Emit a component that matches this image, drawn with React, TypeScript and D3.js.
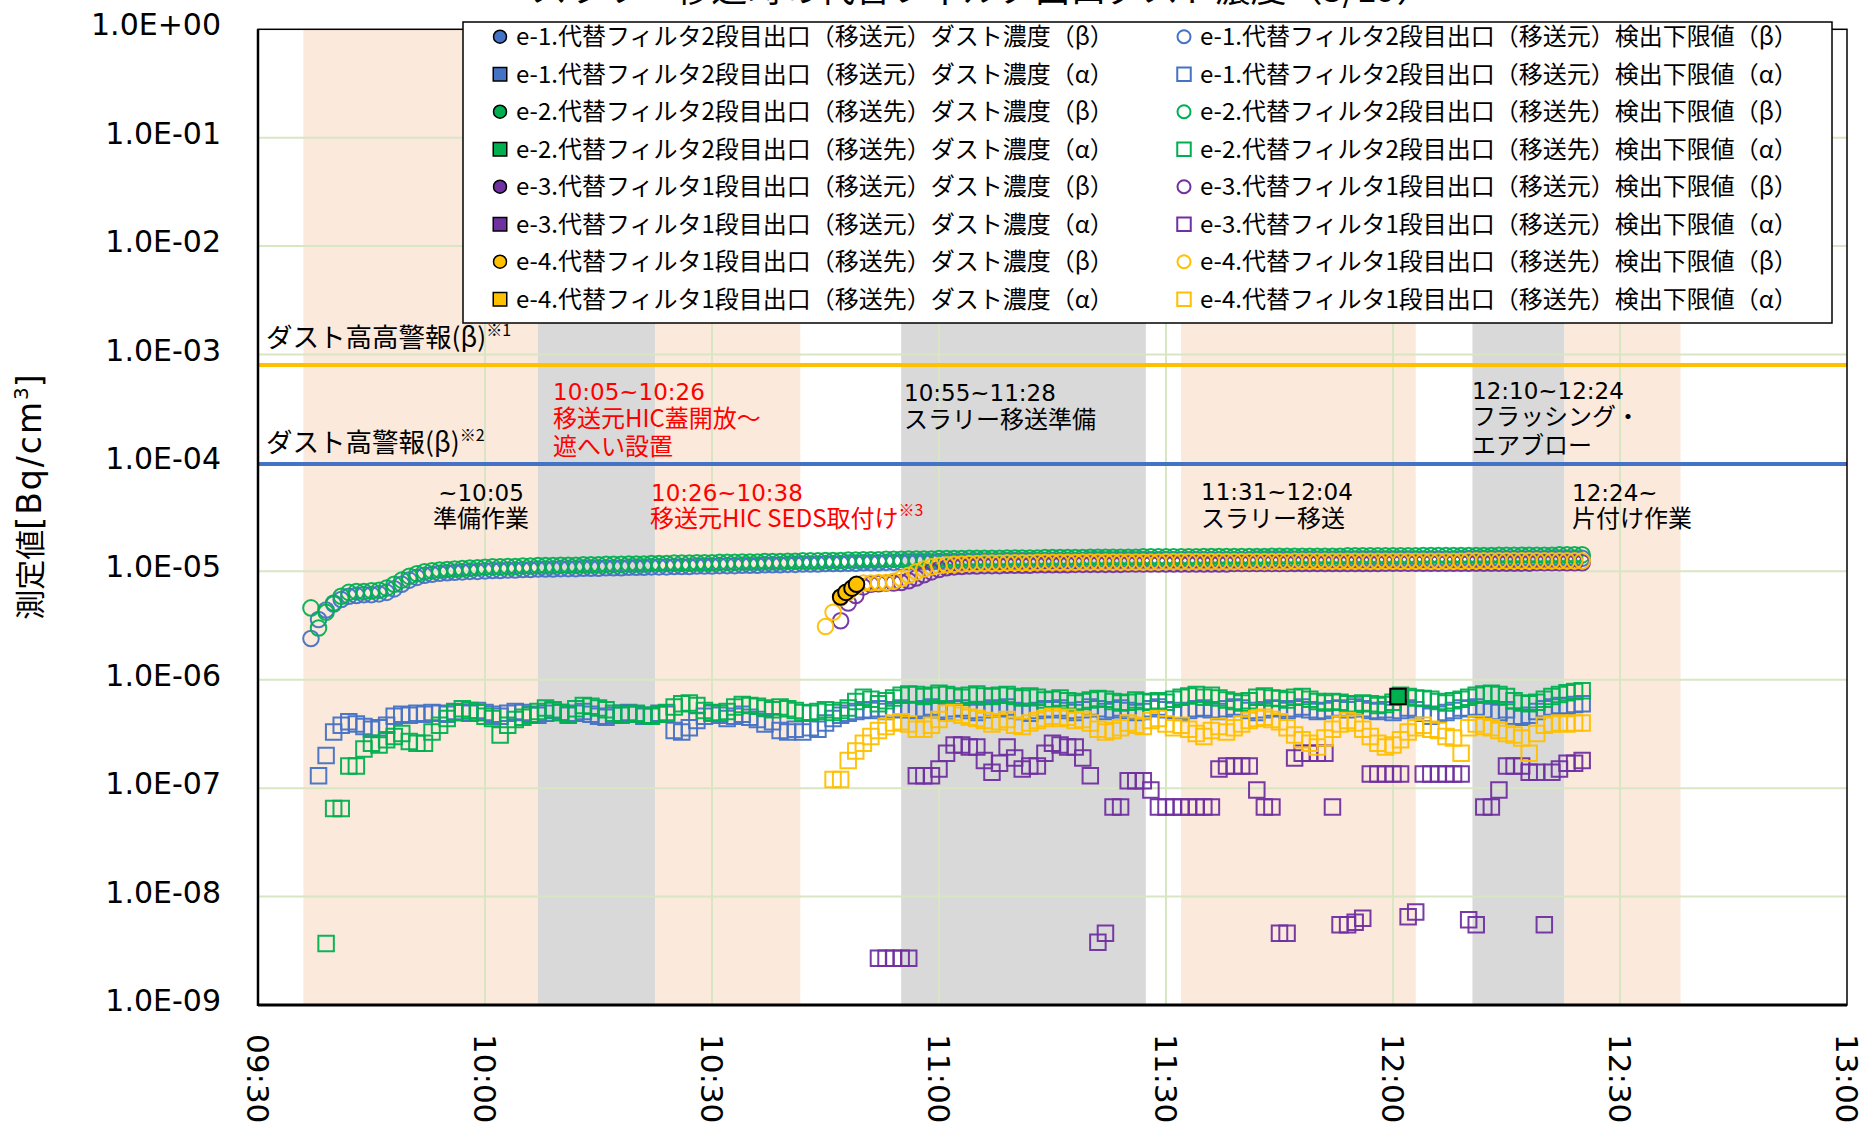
import React from "react";
import * as d3 from "d3";

// ---- data (times are HH:MM, 1-min samples) ----
const xTickLabels = ["09:30", "10:00", "10:30", "11:00", "11:30", "12:00", "12:30", "13:00"];
const yTickValues = [1e0, 1e-1, 1e-2, 1e-3, 1e-4, 1e-5, 1e-6, 1e-7, 1e-8, 1e-9];
const yTickLabels = ["1.0E+00", "1.0E-01", "1.0E-02", "1.0E-03", "1.0E-04", "1.0E-05", "1.0E-06", "1.0E-07", "1.0E-08", "1.0E-09"];

// work-step shading
const bandStarts = ["09:36", "10:07", "10:22:30", "10:55", "11:32", "12:10:30", "12:22:40"];
const bandEnds = ["10:07", "10:22:30", "10:41:40", "11:27:20", "12:03", "12:22:40", "12:38"];
const bandKinds = ["work", "grey", "work", "grey", "work", "grey", "work"];

// alarm levels [Bq/cm3]
const alarmHighHigh = 8.0e-4;
const alarmHigh = 9.8e-5;

// β detection limits [x1E-6]
const e1BetaLldStart = "09:37";
const e1BetaLld = [
  2.4, 3.6, 4.4, 5.0, 5.5, 5.9, 6.0, 6.1, 6.1, 6.2,
  6.4, 6.9, 7.6, 8.3, 8.8, 9.2, 9.4, 9.6, 9.7, 9.8,
  9.9, 10.0, 10.0, 10.1, 10.2, 10.2, 10.3, 10.3, 10.4, 10.4,
  10.5, 10.5, 10.5, 10.6, 10.6, 10.6, 10.7, 10.7, 10.7, 10.8,
  10.8, 10.8, 10.9, 10.9, 10.9, 11.0, 11.0, 11.0, 11.1, 11.1,
  11.1, 11.2, 11.2, 11.2, 11.3, 11.3, 11.3, 11.4, 11.4, 11.4,
  11.5, 11.5, 11.5, 11.6, 11.6, 11.7, 11.7, 11.7, 11.8, 11.8,
  11.8, 11.9, 11.9, 12.0, 12.0, 12.0, 12.1, 12.1, 12.1, 12.2,
  12.2, 12.2, 12.2, 12.3, 12.3, 12.3, 12.3, 12.4, 12.4, 12.4,
  12.4, 12.4, 12.5, 12.5, 12.5, 12.5, 12.5, 12.6, 12.6, 12.6,
  12.6, 12.6, 12.6, 12.7, 12.7, 12.7, 12.7, 12.7, 12.7, 12.7,
  12.8, 12.8, 12.8, 12.8, 12.8, 12.8, 12.8, 12.8, 12.8, 12.8,
  12.8, 12.8, 12.8, 12.8, 12.8, 12.9, 12.9, 12.9, 12.9, 12.9,
  12.9, 12.9, 12.9, 12.9, 12.9, 12.9, 12.9, 13.0, 13.0, 13.0,
  13.0, 13.0, 13.0, 13.0, 13.0, 13.0, 13.0, 13.0, 13.0, 13.0,
  13.0, 13.0, 13.1, 13.1, 13.1, 13.1, 13.1, 13.1, 13.1, 13.1,
  13.1, 13.1, 13.1, 13.1, 13.2, 13.2, 13.2, 13.2, 13.2,
];
const e2BetaLldStart = "09:37";
const e2BetaLld = [
  4.6, 3.0, 4.2, 5.1, 5.9, 6.4, 6.5, 6.5, 6.6, 6.7,
  7.0, 7.6, 8.3, 9.0, 9.5, 9.9, 10.1, 10.3, 10.4, 10.5,
  10.6, 10.7, 10.8, 10.9, 11.0, 11.0, 11.1, 11.1, 11.2, 11.2,
  11.3, 11.3, 11.3, 11.4, 11.4, 11.4, 11.5, 11.5, 11.5, 11.6,
  11.6, 11.6, 11.7, 11.7, 11.7, 11.8, 11.8, 11.8, 11.9, 11.9,
  11.9, 12.0, 12.0, 12.0, 12.1, 12.1, 12.1, 12.2, 12.2, 12.2,
  12.3, 12.3, 12.3, 12.4, 12.4, 12.5, 12.5, 12.5, 12.6, 12.6,
  12.6, 12.7, 12.7, 12.8, 12.8, 12.8, 12.9, 12.9, 12.9, 13.0,
  13.0, 13.0, 13.0, 13.1, 13.1, 13.1, 13.1, 13.2, 13.2, 13.2,
  13.2, 13.2, 13.3, 13.3, 13.3, 13.3, 13.3, 13.4, 13.4, 13.4,
  13.4, 13.4, 13.4, 13.5, 13.5, 13.5, 13.5, 13.5, 13.5, 13.5,
  13.6, 13.6, 13.6, 13.6, 13.6, 13.6, 13.6, 13.6, 13.7, 13.7,
  13.7, 13.7, 13.7, 13.7, 13.7, 13.7, 13.7, 13.8, 13.8, 13.8,
  13.8, 13.8, 13.8, 13.8, 13.8, 13.8, 13.8, 13.9, 13.9, 13.9,
  13.9, 13.9, 13.9, 13.9, 13.9, 13.9, 13.9, 14.0, 14.0, 14.0,
  14.0, 14.0, 14.0, 14.0, 14.0, 14.0, 14.0, 14.1, 14.1, 14.1,
  14.1, 14.1, 14.1, 14.1, 14.1, 14.2, 14.2, 14.2, 14.2,
];
const e3BetaLldStart = "10:47";
const e3BetaLld = [
  3.5, 5.1, 6.0, 7.2, 7.6, 7.7, 7.8, 7.8, 7.9, 8.2,
  8.7, 9.3, 9.9, 10.4, 10.8, 11.0, 11.1, 11.2, 11.2, 11.3,
  11.3, 11.3, 11.4, 11.4, 11.4, 11.4, 11.5, 11.5, 11.5, 11.5,
  11.5, 11.6, 11.6, 11.6, 11.6, 11.6, 11.6, 11.6, 11.7, 11.7,
  11.7, 11.7, 11.7, 11.7, 11.7, 11.7, 11.7, 11.7, 11.7, 11.7,
  11.7, 11.7, 11.8, 11.8, 11.8, 11.8, 11.8, 11.8, 11.8, 11.8,
  11.8, 11.8, 11.8, 11.8, 11.8, 11.8, 11.8, 11.8, 11.8, 11.8,
  11.8, 11.8, 11.9, 11.9, 11.9, 11.9, 11.9, 11.9, 11.9, 11.9,
  11.9, 11.9, 11.9, 11.9, 11.9, 11.9, 11.9, 11.9, 11.9, 11.9,
  11.9, 11.9, 12.0, 12.0, 12.0, 12.0, 12.0, 12.0, 12.0,
];
const e4BetaLldStart = "10:45";
const e4BetaLld = [
  3.1, 4.2, 5.7, 6.4, 7.3, 7.8, 7.8, 7.9, 7.9, 8.1,
  8.6, 9.2, 9.9, 10.5, 11.0, 11.3, 11.5, 11.6, 11.7, 11.8,
  11.8, 11.9, 11.9, 11.9, 12.0, 12.0, 12.0, 12.0, 12.1, 12.1,
  12.1, 12.1, 12.1, 12.1, 12.2, 12.2, 12.2, 12.2, 12.2, 12.2,
  12.2, 12.2, 12.2, 12.2, 12.2, 12.3, 12.3, 12.3, 12.3, 12.3,
  12.3, 12.3, 12.3, 12.3, 12.3, 12.3, 12.3, 12.3, 12.3, 12.3,
  12.3, 12.3, 12.4, 12.4, 12.4, 12.4, 12.4, 12.4, 12.4, 12.4,
  12.4, 12.4, 12.4, 12.4, 12.4, 12.4, 12.4, 12.4, 12.4, 12.4,
  12.4, 12.4, 12.4, 12.4, 12.4, 12.5, 12.5, 12.5, 12.5, 12.5,
  12.5, 12.5, 12.5, 12.5, 12.5, 12.5, 12.5, 12.5, 12.5, 12.5,
  12.5,
];

// α detection limits [x1E-7]
const e1AlphaLldStart = "09:38";
const e1AlphaLld = [
  1.3, 2.0, 3.3, 3.8, 4.1, 3.9, 3.7, 3.5, 3.6, 3.8,
  4.6, 4.8, 4.7, 4.9, 4.8, 5.0, 4.9, 4.8, 5.1, 5.0,
  4.9, 5.2, 5.0, 4.8, 4.6, 4.9, 5.1, 5.0, 4.8, 4.7,
  4.9, 5.2, 5.0, 4.7, 4.9, 5.1, 4.8, 4.6, 4.5, 4.7,
  4.9, 5.0, 4.8, 4.6, 4.7, 4.9, 4.8, 3.4, 3.3, 3.6,
  4.2, 4.6, 4.9, 4.7, 4.4, 4.6, 4.8, 4.5, 4.3, 3.9,
  4.1, 3.4, 3.3, 3.5, 3.3, 3.6, 3.5, 4.0, 4.4, 4.7,
  4.9, 5.1, 5.3, 5.2, 5.4, 5.1, 5.3, 5.5, 5.3, 5.2,
  5.4, 5.6, 5.3, 5.1, 5.4, 5.5, 5.2, 5.0, 5.3, 5.5,
  5.4, 5.6, 5.2, 5.1, 4.9, 5.2, 5.4, 5.3, 5.5, 5.2,
  5.0, 5.3, 5.6, 5.4, 5.1, 5.3, 5.5, 5.2, 5.0, 5.1,
  5.4, 5.6, 5.3, 5.2, 5.0, 5.2, 5.4, 5.5, 5.3, 5.1,
  5.4, 5.6, 5.5, 5.2, 5.0, 5.3, 5.5, 5.4, 5.2, 5.4,
  5.6, 5.3, 5.1, 5.2, 5.4, 5.5, 5.3, 5.6, 5.4, 5.2,
  5.1, 5.3, 5.0, 5.2, 5.5, 5.3, 4.9, 4.6, 4.8, 5.0,
  5.2, 5.5, 5.4, 5.6, 5.3, 5.1, 5.0, 5.3, 4.6, 4.5,
  4.7, 5.1, 5.4, 5.6, 5.8, 5.7, 5.9, 6.0,
];
const e2AlphaLldStart = "09:39";
const e2AlphaLld = [
  0.037, 0.65, 0.65, 1.6, 1.6, 2.3, 2.6, 2.5, 2.8, 3.0,
  3.2, 2.7, 2.6, 2.6, 3.3, 3.8, 4.4, 5.0, 5.4, 5.2,
  5.0, 4.6, 4.4, 3.1, 3.8, 4.3, 4.5, 4.7, 5.1, 5.5,
  5.3, 5.0, 4.8, 5.4, 5.8, 5.7, 5.5, 5.3, 4.9, 4.7,
  4.8, 4.9, 4.7, 4.6, 4.8, 5.0, 5.6, 6.0, 6.1, 5.8,
  5.2, 5.0, 4.9, 5.1, 5.6, 5.9, 5.8, 5.7, 5.5, 5.3,
  5.6, 5.4, 5.2, 5.0, 4.9, 5.1, 5.3, 5.0, 5.2, 5.5,
  6.3, 6.9, 6.6, 6.0, 6.4, 6.8, 7.2, 7.4, 7.3, 7.0,
  7.2, 7.5, 7.3, 7.1, 6.9, 7.2, 7.4, 7.1, 7.0, 7.2,
  7.3, 7.0, 6.8, 7.1, 6.9, 6.5, 6.6, 6.8, 6.4, 6.1,
  6.3, 6.5, 6.7, 6.6, 6.3, 6.1, 6.2, 6.5, 6.3, 6.2,
  6.4, 6.2, 6.6, 6.9, 7.1, 7.3, 6.9, 7.2, 6.8, 6.5,
  6.3, 6.1, 6.4, 6.9, 7.1, 6.8, 6.7, 6.5, 6.9, 7.0,
  6.6, 6.3, 6.1, 6.3, 6.2, 6.0, 5.9, 6.1, 6.0, 5.8,
  5.9, 6.2, 7.2, 7.0, 6.8, 6.7, 6.6, 6.3, 6.1, 6.4,
  6.6, 6.9, 7.2, 7.4, 7.5, 7.3, 7.0, 6.4, 6.1, 6.0,
  6.2, 6.6, 7.0, 7.3, 7.6, 7.8, 7.9,
];
// e-3 α [x1E-9]
const e3AlphaLldStart = "10:52";
const e3AlphaLld = [
  2.7, 2.7, 2.7, 2.7, 2.7, 130, 130, 130, 150, 210,
  250, 250, 240, 240, 180, 140, 170, 240, 190, 150,
  160, 160, 210, 260, 250, 240, 240, 190, 130, 3.8,
  4.6, 67, 67, 117, 117, 117, 96, 67, 67, 67,
  67, 67, 67, 67, 67, 150, 160, 160, 160, 160,
  96, 67, 67, 4.6, 4.6, 190, 210, 210, 210, 210,
  67, 5.5, 5.5, 5.8, 6.3, 135, 135, 135, 135, 135,
  6.5, 7.2, 135, 135, 135, 135, 135, 135, 6.1, 5.5,
  67, 67, 96, 160, 160, 160, 140, 140, 5.5, 140,
  150, 170, 170, 180,
];
const e4AlphaLldStart = "10:46";
const e4AlphaLld = [
  1.2, 1.2, 1.8, 2.2, 2.6, 3.0, 3.4, 3.7, 4.0, 4.1,
  3.9, 3.5, 3.5, 3.8, 4.3, 4.9, 5.0, 4.7, 4.5, 4.4,
  4.2, 3.9, 4.1, 4.3, 3.8, 3.7, 4.0, 4.2, 4.4, 4.6,
  4.4, 4.5, 4.2, 4.3, 4.0, 3.5, 3.3, 3.4, 3.6, 4.0,
  3.8, 3.7, 4.2, 4.4, 3.9, 3.6, 3.8, 3.5, 3.2, 3.0,
  3.4, 3.7, 3.3, 3.6, 3.9, 4.2, 4.4, 4.5, 4.3, 4.1,
  3.6, 3.1, 2.8, 2.6, 2.4, 2.9, 3.5, 3.9, 4.2, 4.0,
  3.5, 3.0, 2.6, 2.4, 2.5, 2.8, 3.3, 3.6, 3.8, 3.5,
  3.4, 3.0, 2.9, 2.1, 3.6, 3.9, 3.7, 3.6, 3.4, 3.2,
  3.1, 2.9, 2.1, 3.2, 3.8, 3.9, 4.0, 3.9, 4.0, 4.0,
];

// measured concentrations (only a few points above detection)
const e4BetaConcTimes = ["10:47:00", "10:47:42", "10:48:30", "10:49:06"];
const e4BetaConc = [5.8e-6, 6.4e-6, 7.0e-6, 7.6e-6];
const e2AlphaConcTimes = ["12:00:40"];
const e2AlphaConc = [7.0e-7];

// ---- look ----
const W = 1864;
const H = 1124;
const PL = 258, PR = 1847, PT = 29.3, PB = 1005;
const JP = '"Noto Sans CJK JP", "Noto Sans", sans-serif';
const NUM = '"DejaVu Sans", "Noto Sans", sans-serif';
const BLUE = "#4472C4";
const GREEN = "#00B050";
const PURPLE = "#7030A0";
const YELLOW = "#FFC000";
const BAND_FILL: Record<string, string> = { work: "#FBE9DB", grey: "#D9D9D9" };
const GRID = "#D9E6C4";

const toMin = (s: string) => {
  const [h, m, sec] = s.split(":").map(Number);
  return h * 60 + m + (sec || 0) / 60 - (9 * 60 + 30);
};

const minuteSeries = (start: string, vals: number[], unit: number) =>
  vals.map((v, i) => ({ t: toMin(start) + i, v: v * unit }));

const pointSeries = (times: string[], vals: number[]) =>
  vals.map((v, i) => ({ t: toMin(times[i]), v }));

type Pt = { t: number; v: number };
type Series = { pts: Pt[]; color: string; shape: "circle" | "square"; filled: boolean };

// Excel series order: drawn bottom to top
const plotted: Series[] = [
  { pts: minuteSeries(e1BetaLldStart, e1BetaLld, 1e-6), color: BLUE, shape: "circle", filled: false },
  { pts: minuteSeries(e1AlphaLldStart, e1AlphaLld, 1e-7), color: BLUE, shape: "square", filled: false },
  { pts: minuteSeries(e2BetaLldStart, e2BetaLld, 1e-6), color: GREEN, shape: "circle", filled: false },
  { pts: minuteSeries(e2AlphaLldStart, e2AlphaLld, 1e-7), color: GREEN, shape: "square", filled: false },
  { pts: minuteSeries(e3BetaLldStart, e3BetaLld, 1e-6), color: PURPLE, shape: "circle", filled: false },
  { pts: minuteSeries(e3AlphaLldStart, e3AlphaLld, 1e-9), color: PURPLE, shape: "square", filled: false },
  { pts: minuteSeries(e4BetaLldStart, e4BetaLld, 1e-6), color: YELLOW, shape: "circle", filled: false },
  { pts: minuteSeries(e4AlphaLldStart, e4AlphaLld, 1e-7), color: YELLOW, shape: "square", filled: false },
  { pts: pointSeries(e4BetaConcTimes, e4BetaConc), color: YELLOW, shape: "circle", filled: true },
  { pts: pointSeries(e2AlphaConcTimes, e2AlphaConc), color: GREEN, shape: "square", filled: true },
];

const legendLeft = [
  { label: "e-1.代替フィルタ2段目出口（移送元）ダスト濃度（β）", color: BLUE, shape: "circle" },
  { label: "e-1.代替フィルタ2段目出口（移送元）ダスト濃度（α）", color: BLUE, shape: "square" },
  { label: "e-2.代替フィルタ2段目出口（移送先）ダスト濃度（β）", color: GREEN, shape: "circle" },
  { label: "e-2.代替フィルタ2段目出口（移送先）ダスト濃度（α）", color: GREEN, shape: "square" },
  { label: "e-3.代替フィルタ1段目出口（移送元）ダスト濃度（β）", color: PURPLE, shape: "circle" },
  { label: "e-3.代替フィルタ1段目出口（移送元）ダスト濃度（α）", color: PURPLE, shape: "square" },
  { label: "e-4.代替フィルタ1段目出口（移送先）ダスト濃度（β）", color: YELLOW, shape: "circle" },
  { label: "e-4.代替フィルタ1段目出口（移送先）ダスト濃度（α）", color: YELLOW, shape: "square" },
];
const legendRight = legendLeft.map((d) => ({ ...d, label: d.label.replace("ダスト濃度", "検出下限値") }));

const symbolPath = (shape: string, size: number) =>
  d3.symbol(shape === "circle" ? d3.symbolCircle : d3.symbolSquare, size)()!;

export default function App() {
  const x = d3.scaleLinear().domain([0, 210]).range([PL, PR]);
  const y = d3.scaleLog().domain([1, 1e-9]).range([PT, PB]);

  const circlePath = symbolPath("circle", Math.PI * 7.8 * 7.8);
  const squarePath = symbolPath("square", 15.5 * 15.5);
  const legCircle = symbolPath("circle", Math.PI * 6.5 * 6.5);
  const legSquare = symbolPath("square", 13.5 * 13.5);

  const legRowY = (i: number) => 36.7 + i * 37.5;

  return (
    <svg width={W} height={H} style={{ position: "absolute", left: 0, top: 0, background: "#fff" }}>
      <rect width={W} height={H} fill="#fff" />

      {/* title, mostly above the frame */}
      <text x={982} y={2} fontFamily={JP} fontSize={36} textAnchor="middle">
        スラリー移送時の代替フィルタ出口ダスト濃度（3/19）
      </text>

      {/* work bands */}
      {bandStarts.map((s, i) => (
        <rect key={"b" + i} x={x(toMin(s))} y={PT} width={x(toMin(bandEnds[i])) - x(toMin(s))}
          height={PB - PT} fill={BAND_FILL[bandKinds[i]]} />
      ))}

      {/* grid */}
      {yTickValues.slice(1, -1).map((v) => (
        <line key={"gy" + v} x1={PL} x2={PR} y1={y(v)} y2={y(v)} stroke={GRID} strokeWidth={2} />
      ))}
      {xTickLabels.slice(1, -1).map((s) => (
        <line key={"gx" + s} x1={x(toMin(s))} x2={x(toMin(s))} y1={PT} y2={PB} stroke={GRID} strokeWidth={2} />
      ))}

      {/* alarm levels */}
      <line x1={PL} x2={PR} y1={y(alarmHighHigh)} y2={y(alarmHighHigh)} stroke={YELLOW} strokeWidth={4} />
      <line x1={PL} x2={PR} y1={y(alarmHigh)} y2={y(alarmHigh)} stroke={BLUE} strokeWidth={4} />

      {/* frame */}
      <rect x={PL} y={PT} width={PR - PL} height={PB - PT} fill="none" stroke="#000" strokeWidth={1.5} />
      <line x1={PL} x2={PL} y1={PT} y2={PB + 1} stroke="#000" strokeWidth={2.5} />
      <line x1={PL} x2={PR} y1={PB} y2={PB} stroke="#000" strokeWidth={3} />

      {/* y ticks */}
      {yTickValues.map((v, i) => (
        <text key={"yl" + i} x={221} y={y(v) + 6} fontFamily={NUM} fontSize={30} textAnchor="end">
          {yTickLabels[i]}
        </text>
      ))}
      {/* x ticks, rotated */}
      {xTickLabels.map((s) => (
        <text key={"xl" + s} transform={`translate(${x(toMin(s))},${PB + 29}) rotate(90)`}
          dy="0.36em" fontFamily={NUM} fontSize={31} textAnchor="start">
          {s}
        </text>
      ))}
      <text transform="translate(41,497) rotate(-90)" fontFamily={JP} fontSize={30} textAnchor="middle">
        測定値<tspan fontFamily={NUM} fontSize={33} letterSpacing={2}>[Bq/cm</tspan>
        <tspan fontFamily={NUM} fontSize={20} dy={-13}>3</tspan>
        <tspan fontFamily={NUM} fontSize={33} dy={13}>]</tspan>
      </text>

      {/* markers */}
      {plotted.map((s, si) => (
        <g key={"s" + si}>
          {s.pts.map((p, pi) => (
            <path key={pi} d={s.shape === "circle" ? circlePath : squarePath}
              transform={`translate(${x(p.t)},${y(p.v)})`}
              fill={s.filled ? s.color : "none"}
              stroke={s.filled ? "#000" : s.color}
              strokeWidth={2}
              strokeOpacity={s.filled ? 1 : 0.95} />
          ))}
        </g>
      ))}

      {/* annotations */}
      <g fontFamily={JP} fontSize={24} fill="#000">
        <text x={266} y={347} fontSize={26.5}>ダスト高高警報(β)<tspan fontSize={16} dy={-11}>※1</tspan></text>
        <text x={266} y={452} fontSize={26.5}>ダスト高警報(β)<tspan fontSize={16} dy={-11}>※2</tspan></text>

        <g fill="#FF0000">
          <text x={553} y={400} fontFamily={NUM} fontSize={23}>10:05~10:26</text>
          <text x={553} y={427}>移送元HIC蓋開放～</text>
          <text x={553} y={455}>遮へい設置</text>
          <text x={651} y={501} fontFamily={NUM} fontSize={23}>10:26~10:38</text>
          <text x={650} y={527}>移送元HIC SEDS取付け<tspan fontSize={16} dy={-11}>※3</tspan></text>
        </g>

        <text x={481} y={501} fontFamily={NUM} fontSize={23} textAnchor="middle">~10:05</text>
        <text x={481} y={527} textAnchor="middle">準備作業</text>

        <text x={904} y={401} fontFamily={NUM} fontSize={23}>10:55~11:28</text>
        <text x={904} y={428}>スラリー移送準備</text>

        <text x={1201} y={500} fontFamily={NUM} fontSize={23}>11:31~12:04</text>
        <text x={1201} y={527}>スラリー移送</text>

        <text x={1472} y={399} fontFamily={NUM} fontSize={23}>12:10~12:24</text>
        <text x={1472} y={425}>フラッシング・</text>
        <text x={1472} y={454}>エアブロー</text>

        <text x={1572} y={501} fontFamily={NUM} fontSize={23}>12:24~</text>
        <text x={1572} y={527}>片付け作業</text>
      </g>

      {/* legend */}
      <g>
        <rect x={463} y={22} width={1369} height={301} fill="#fff" stroke="#000" strokeWidth={1.5} />
        {legendLeft.map((d, i) => (
          <g key={"ll" + i}>
            <path d={d.shape === "circle" ? legCircle : legSquare}
              transform={`translate(500,${legRowY(i)})`} fill={d.color} stroke="#000" strokeWidth={1.5} />
            <text x={516} y={legRowY(i) + 8.5} fontFamily={JP} fontSize={24}>{d.label}</text>
          </g>
        ))}
        {legendRight.map((d, i) => (
          <g key={"lr" + i}>
            <path d={d.shape === "circle" ? legCircle : legSquare}
              transform={`translate(1184,${legRowY(i)})`} fill="none" stroke={d.color} strokeWidth={2} />
            <text x={1200} y={legRowY(i) + 8.5} fontFamily={JP} fontSize={24}>{d.label}</text>
          </g>
        ))}
      </g>
    </svg>
  );
}
